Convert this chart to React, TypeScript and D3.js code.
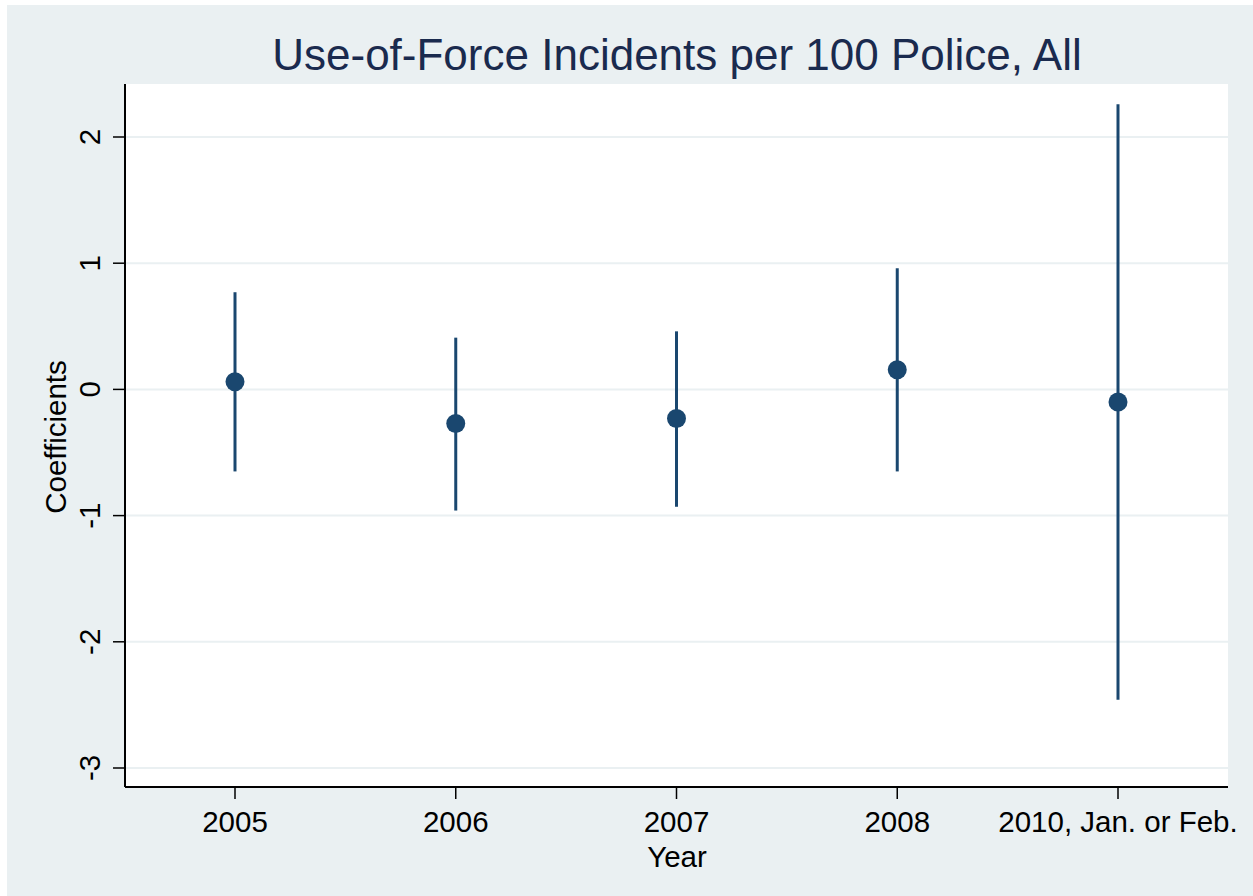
import React from "react";
import * as d3 from "d3";

const categories = ["2005", "2006", "2007", "2008", "2010, Jan. or Feb."];
const coefficients = [0.06, -0.27, -0.23, 0.155, -0.1];
const lowerCI = [-0.65, -0.96, -0.93, -0.65, -2.46];
const upperCI = [0.77, 0.41, 0.46, 0.96, 2.26];
const yTicks = [-3, -2, -1, 0, 1, 2];

const W = 1253;
const H = 896;
const plotLeft = 125;
const plotRight = 1228;
const plotTop = 84;
const plotBottom = 787;
const navy = "#1a476f";
const font = "'Liberation Sans', Arial, Helvetica, sans-serif";
const fs = 29.5;

export default function App() {
  const x = d3.scaleLinear().domain([0, 4]).range([235, 1118]);
  const y = d3.scaleLinear().domain([-3, 2]).range([768, 137]);

  return (
    <svg width={W} height={H} style={{ position: "absolute", left: 0, top: 0 }} fontFamily={font}>
      <rect x={0} y={0} width={W} height={H} fill="#ffffff" />
      <rect x={7} y={5} width={W - 7} height={H - 5} fill="#eaf0f2" />
      <rect x={plotLeft} y={plotTop} width={plotRight - plotLeft} height={plotBottom - plotTop} fill="#ffffff" />
      {yTicks.map((t) => (
        <line key={"g" + t} x1={plotLeft} x2={plotRight} y1={y(t)} y2={y(t)} stroke="#eaf0f2" strokeWidth={2} />
      ))}
      <text x={677} y={70} textAnchor="middle" fontSize={44} fill="#1a2a4e">
        Use-of-Force Incidents per 100 Police, All
      </text>
      <line x1={plotLeft} x2={plotLeft} y1={plotTop} y2={plotBottom} stroke="#000" strokeWidth={2} />
      <line x1={plotLeft} x2={plotRight} y1={plotBottom} y2={plotBottom} stroke="#000" strokeWidth={2} />
      {yTicks.map((t) => (
        <g key={"yt" + t}>
          <line x1={plotLeft - 12} x2={plotLeft} y1={y(t)} y2={y(t)} stroke="#000" strokeWidth={1.5} />
          <text
            transform={`translate(${100},${y(t)}) rotate(-90)`}
            textAnchor="middle"
            fontSize={fs}
            fill="#000"
          >
            {t}
          </text>
        </g>
      ))}
      {categories.map((c, i) => (
        <g key={"xt" + i}>
          <line x1={x(i)} x2={x(i)} y1={plotBottom} y2={plotBottom + 12} stroke="#000" strokeWidth={1.5} />
          <text x={x(i)} y={832} textAnchor="middle" fontSize={fs} fill="#000">
            {c}
          </text>
        </g>
      ))}
      <text x={677} y={867} textAnchor="middle" fontSize={fs} fill="#000">
        Year
      </text>
      <text transform={`translate(${66},${437}) rotate(-90)`} textAnchor="middle" fontSize={fs} fill="#000">
        Coefficients
      </text>
      {categories.map((c, i) => (
        <g key={"m" + i}>
          <line x1={x(i)} x2={x(i)} y1={y(lowerCI[i])} y2={y(upperCI[i])} stroke={navy} strokeWidth={3} />
          <circle cx={x(i)} cy={y(coefficients[i])} r={9.5} fill={navy} />
        </g>
      ))}
    </svg>
  );
}
